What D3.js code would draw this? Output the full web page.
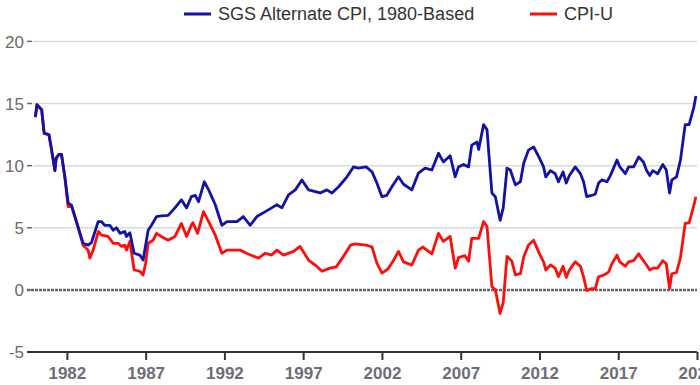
<!DOCTYPE html>
<html lang="en">
<head>
<meta charset="UTF-8">
<title>SGS Alternate CPI vs CPI-U</title>
<style>
    body { margin: 0; background: #fff; }
    svg { display: block; font-family: "Liberation Sans", Arial, sans-serif; }
</style>
</head>
<body>
<svg></svg>
<script src="https://cdn.jsdelivr.net/npm/d3@7"></script>
<script>
// readings (decimal year, annual % change)
var sgsYears = [1980.0, 1980.1, 1980.4, 1980.56, 1980.86, 1981.0, 1981.24, 1981.32, 1981.5, 1981.66, 1981.87,
    1982.08, 1982.3, 1982.7, 1983.03, 1983.35, 1983.56, 1983.99, 1984.2, 1984.4, 1984.73, 1984.94,
    1985.15, 1985.37, 1985.68, 1985.78, 1986.0, 1986.27, 1986.63, 1986.84, 1987.16, 1987.37, 1987.69,
    1988.0, 1988.43, 1988.86, 1989.27, 1989.6, 1989.9, 1990.15, 1990.36, 1990.72, 1991.0, 1991.42,
    1991.84, 1992.16, 1992.8, 1993.2, 1993.64, 1994.06, 1994.6, 1995.0, 1995.33, 1995.65, 1996.07,
    1996.5, 1996.92, 1997.34, 1998.08, 1998.5, 1998.83, 1999.25, 1999.78, 2000.2, 2000.5, 2001.0,
    2001.37, 2001.68, 2002.0, 2002.3, 2002.63, 2003.05, 2003.37, 2003.9, 2004.32, 2004.74, 2005.17,
    2005.59, 2005.9, 2006.33, 2006.65, 2006.86, 2007.17, 2007.5, 2007.7, 2008.03, 2008.14, 2008.45,
    2008.67, 2008.98, 2009.2, 2009.5, 2009.7, 2009.94, 2010.15, 2010.47, 2010.79, 2011.0, 2011.3,
    2011.63, 2012.0, 2012.26, 2012.4, 2012.7, 2013.0, 2013.2, 2013.5, 2013.7, 2013.9, 2014.27, 2014.6,
    2014.8, 2015.0, 2015.3, 2015.54, 2015.75, 2015.96, 2016.28, 2016.5, 2016.92, 2017.1, 2017.45,
    2017.66, 2017.98, 2018.3, 2018.6, 2018.8, 2019.0, 2019.2, 2019.5, 2019.83, 2020.05, 2020.26,
    2020.4, 2020.7, 2020.95, 2021.25, 2021.5, 2021.8, 2021.93];
var sgsValues = [13.9, 14.9, 14.5, 12.6, 12.5, 11.5, 9.6, 10.6, 10.9, 10.9, 9.1,
    7.0, 6.8, 5.1, 3.75, 3.6, 3.8, 5.5, 5.5, 5.2, 5.2, 4.8,
    5.0, 4.55, 4.7, 4.3, 4.6, 2.95, 2.8, 2.4, 4.8, 5.2, 5.9,
    5.95, 6.0, 6.6, 7.25, 6.6, 7.5, 7.6, 7.1, 8.7, 8.05, 6.85,
    5.2, 5.5, 5.5, 5.9, 5.2, 5.9, 6.3, 6.6, 6.85, 6.6, 7.65,
    8.05, 8.85, 8.05, 7.8, 8.05, 7.8, 8.3, 9.1, 9.9, 9.8, 9.9,
    9.5, 8.6, 7.5, 7.6, 8.3, 9.1, 8.5, 8.05, 9.4, 9.8, 9.65,
    11.0, 10.3, 10.8, 9.1, 9.9, 10.1, 9.9, 11.65, 11.9, 11.3, 13.3,
    12.9, 7.8, 7.5, 5.6, 6.6, 9.8, 9.65, 8.45, 8.7, 10.2, 11.25,
    11.5, 10.6, 9.9, 9.1, 9.6, 9.35, 8.7, 9.5, 8.6, 9.2, 9.9, 9.35,
    8.7, 7.5, 7.6, 7.7, 8.6, 8.85, 8.7, 9.2, 10.45, 9.9, 9.35,
    9.9, 9.9, 10.7, 10.3, 9.6, 9.2, 9.6, 9.35, 10.1, 9.65, 7.8,
    8.85, 9.1, 10.45, 13.3, 13.3, 14.7, 15.6];

var cpiYears = [1980.0, 1980.1, 1980.4, 1980.56, 1980.86, 1981.0, 1981.24, 1981.32, 1981.5, 1981.66, 1981.87,
    1982.08, 1982.3, 1982.7, 1983.03, 1983.35, 1983.46, 1983.67, 1984.0, 1984.2, 1984.62, 1984.94,
    1985.26, 1985.47, 1985.68, 1985.78, 1986.0, 1986.27, 1986.63, 1986.84, 1987.0, 1987.16, 1987.48,
    1987.69, 1988.0, 1988.43, 1988.86, 1989.27, 1989.6, 1989.9, 1990.0, 1990.3, 1990.67, 1991.0,
    1991.42, 1991.84, 1992.16, 1993.0, 1993.4, 1994.17, 1994.6, 1995.0, 1995.33, 1995.75, 1996.4,
    1996.8, 1997.34, 1997.76, 1998.2, 1998.7, 1999.1, 1999.56, 2000.0, 2000.3, 2001.0, 2001.37,
    2001.68, 2002.0, 2002.4, 2002.7, 2003.05, 2003.37, 2003.9, 2004.32, 2004.6, 2005.17, 2005.59,
    2005.9, 2006.33, 2006.65, 2006.86, 2007.27, 2007.5, 2007.7, 2008.14, 2008.45, 2008.67, 2008.98,
    2009.2, 2009.5, 2009.7, 2009.94, 2010.25, 2010.47, 2010.79, 2011.0, 2011.3, 2011.63, 2012.0,
    2012.26, 2012.4, 2012.7, 2013.0, 2013.2, 2013.5, 2013.7, 2013.9, 2014.27, 2014.6, 2014.8, 2015.0,
    2015.3, 2015.54, 2015.75, 2016.1, 2016.4, 2016.6, 2016.92, 2017.1, 2017.45, 2017.66, 2017.98,
    2018.3, 2018.6, 2018.8, 2019.0, 2019.2, 2019.5, 2019.83, 2020.05, 2020.26, 2020.4, 2020.7,
    2020.95, 2021.25, 2021.5, 2021.8, 2021.93];
var cpiValues = [13.9, 14.9, 14.5, 12.6, 12.5, 11.5, 9.6, 10.6, 10.9, 10.9, 9.1,
    6.7, 6.7, 5.1, 3.6, 3.2, 2.55, 3.2, 4.7, 4.4, 4.3, 3.75,
    3.75, 3.5, 3.6, 3.2, 3.9, 1.6, 1.5, 1.2, 2.15, 3.75, 4.0,
    4.55, 4.3, 4.0, 4.3, 5.35, 4.3, 5.2, 5.4, 4.55, 6.3, 5.5,
    4.4, 2.95, 3.2, 3.2, 2.95, 2.55, 2.95, 2.8, 3.2, 2.8, 3.1,
    3.5, 2.4, 2.0, 1.5, 1.75, 1.85, 2.7, 3.6, 3.7, 3.6, 3.45,
    2.15, 1.35, 1.7, 2.3, 3.1, 2.25, 2.0, 3.2, 3.45, 2.9, 4.55,
    3.9, 4.3, 1.75, 2.6, 2.75, 2.3, 4.15, 4.15, 5.5, 5.1, 0.27,
    0.0, -1.9, -1.0, 2.7, 2.3, 1.2, 1.3, 2.65, 3.6, 4.0, 2.9,
    2.25, 1.6, 2.0, 1.75, 1.07, 1.9, 1.0, 1.6, 2.25, 1.9, 1.05, -0.05,
    0.1, 0.1, 1.05, 1.2, 1.45, 2.1, 2.8, 2.25, 1.9, 2.25, 2.35,
    2.9, 2.35, 2.0, 1.6, 1.75, 1.75, 2.35, 2.1, 0.1, 1.3, 1.4,
    2.6, 5.35, 5.4, 6.8, 7.5];

var xTicks = [1982, 1987, 1992, 1997, 2002, 2007, 2012, 2017, 2022];
var yTicks = [-5, 0, 5, 10, 15, 20];
var seriesNames = ["SGS Alternate CPI, 1980-Based", "CPI-U"];

var blue = "#1212a8", red = "#ff0d0d";

function toPoints(years, values) {
    return years.map(function(d, i) { return { year: d, value: values[i] }; });
}

var svgWidth = 700, svgHeight = 385;
var svg = d3.select("svg").attr("width", svgWidth).attr("height", svgHeight);

var x = d3.scaleLinear().domain([1979.85, 2022.0]).range([33, 697]);
var y = d3.scaleLinear().domain([-5, 20]).range([352, 41.4]);

// gridlines
svg.append("g").selectAll("line")
    .data(yTicks.filter(function(d) { return d > 0; }))
    .enter().append("line")
    .attr("x1", 33).attr("x2", 697)
    .attr("y1", function(d) { return y(d); })
    .attr("y2", function(d) { return y(d); })
    .attr("stroke", "#dadada")
    .attr("stroke-width", 1.5);

// zero line (dashed, dark grey)
svg.append("line")
    .attr("x1", 27).attr("x2", 697)
    .attr("y1", y(0)).attr("y2", y(0))
    .attr("stroke", "#666")
    .attr("stroke-width", 2.5)
    .attr("stroke-dasharray", "3,1");

// y labels + little dashes
var yg = svg.append("g");
yg.selectAll("text").data(yTicks).enter().append("text")
    .attr("x", 24)
    .attr("y", function(d) { return y(d); })
    .attr("dy", "0.36em")
    .attr("text-anchor", "end")
    .attr("fill", "#6a6a6a")
    .style("font-size", "17px")
    .text(function(d) { return d; });
yg.selectAll("line").data(yTicks).enter().append("line")
    .attr("x1", 27).attr("x2", 32)
    .attr("y1", function(d) { return y(d); })
    .attr("y2", function(d) { return y(d); })
    .attr("stroke", "#6a6a6a")
    .attr("stroke-width", 1.5);

// bottom axis
var xAxis = d3.axisBottom(x)
    .tickValues(xTicks)
    .tickFormat(d3.format("d"))
    .tickSize(8)
    .tickPadding(7);
var xg = svg.append("g")
    .attr("transform", "translate(0," + y(-5) + ")")
    .call(xAxis);
xg.select(".domain").remove();
xg.selectAll(".tick line").attr("stroke", "#333").attr("stroke-width", 2);
xg.selectAll(".tick text")
    .attr("fill", "#6d6d78")
    .style("font-size", "17px")
    .style("font-weight", "bold")
    .style("font-family", "'Liberation Sans', Arial, sans-serif");
svg.append("line")
    .attr("x1", 27).attr("x2", 697)
    .attr("y1", y(-5)).attr("y2", y(-5))
    .attr("stroke", "#333")
    .attr("stroke-width", 2);

// series
var line = d3.line()
    .x(function(d) { return x(d.year); })
    .y(function(d) { return y(d.value); });

svg.append("path")
    .datum(toPoints(cpiYears, cpiValues))
    .attr("fill", "none")
    .attr("stroke", red)
    .attr("stroke-width", 2.8)
    .attr("stroke-linejoin", "round")
    .attr("d", line);

svg.append("path")
    .datum(toPoints(sgsYears, sgsValues))
    .attr("fill", "none")
    .attr("stroke", blue)
    .attr("stroke-width", 2.8)
    .attr("stroke-linejoin", "round")
    .attr("d", line);

// legend
var legend = [
    { name: seriesNames[0], color: blue, x: 184 },
    { name: seriesNames[1], color: red, x: 530 }
];
var lg = svg.append("g").selectAll("g").data(legend).enter().append("g")
    .attr("transform", function(d) { return "translate(" + d.x + ",14)"; });
lg.append("line")
    .attr("x1", 0).attr("x2", 27)
    .attr("stroke", function(d) { return d.color; })
    .attr("stroke-width", 3);
lg.append("text")
    .attr("x", 34)
    .attr("dy", "0.36em")
    .attr("fill", "#333")
    .style("font-size", "18px")
    .text(function(d) { return d.name; });
</script>
</body>
</html>
